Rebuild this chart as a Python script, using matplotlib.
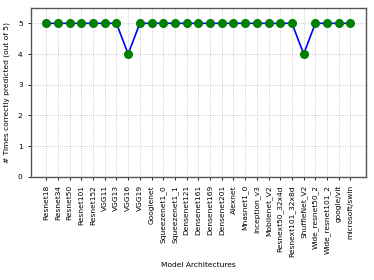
import matplotlib
matplotlib.use("Agg")
import matplotlib.pyplot as plt

# Model names and how many times each was correctly predicted
models = ["Resnet18", "Resnet34", "Resnet50", "Resnet101", "Resnet152", "VGG11", "VGG13",
          "VGG16", "VGG19", "Googlenet", "Squeezenet1_0", "Squeezenet1_1", "Densenet121",
          "Densenet161", "Densenet169", "Densenet201", "Alexnet", "Mnasnet1_0", "Inception_v3",
          "Mobilenet_V2", "Resnext50_32x4d", "Resnext101_32x8d", "ShuffleNet_V2",
          "Wide_resnet50_2", "Wide_resnet101_2", "google/vit", "microsoft/swin"]
correct = [5, 5, 5, 5, 5, 5, 5, 4, 5, 5, 5, 5, 5, 5, 5, 5, 5, 5, 5, 5, 5, 5, 4, 5, 5, 5, 5]

fig = plt.figure(figsize=(3.74, 2.8), dpi=100)
ax = fig.add_axes([31 / 374, 1 - 176.7 / 280, (365.7 - 31) / 374, (176.7 - 8) / 280])

ax.plot(models, correct, color="blue", linewidth=1.2, marker="o",
        markersize=5.5, markerfacecolor="green", markeredgecolor="green")
ax.set_ylim(0, 5.5)
ax.set_yticks([0, 1, 2, 3, 4, 5])
ax.grid(True, linestyle=":", color="#bbbbbb", linewidth=0.6)
ax.tick_params(axis="both", labelsize=5.4, length=2.5, width=0.6)
plt.setp(ax.get_xticklabels(), rotation=90)
for s in ax.spines.values():
    s.set_color("#555555")
    s.set_linewidth(1.0)

ax.set_xlabel("Model Architectures", fontsize=5.4, labelpad=4)
ax.set_ylabel("# Times correctly predicted (out of 5)", fontsize=5.4, labelpad=6)

plt.savefig("out.png", dpi=100)
